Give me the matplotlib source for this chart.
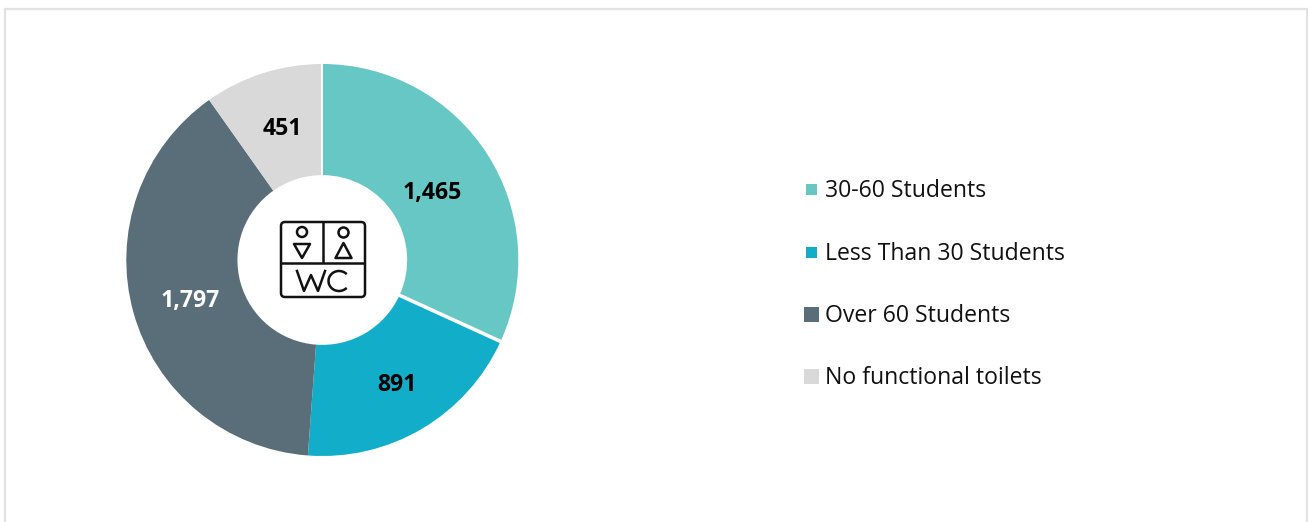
import matplotlib
matplotlib.use('Agg')
import matplotlib.pyplot as plt
import numpy as np
from matplotlib.patches import Rectangle, FancyBboxPatch, Circle, Polygon

plt.rcParams['font.family'] = ['Open Sans', 'DejaVu Sans']

categories = ['30-60 Students', 'Less Than 30 Students', 'Over 60 Students', 'No functional toilets']
values = [1465, 891, 1797, 451]
colors = ['#66C7C4', '#12AEC9', '#5A6E79', '#D9D9D9']
label_colors = ['black', 'black', 'white', 'black']

W, H = 1309, 522
fig = plt.figure(figsize=(W / 100, H / 100), dpi=100, facecolor='white')

# overlay in pixel coordinates for frame, legend, icon
ov = fig.add_axes([0, 0, 1, 1], zorder=3)
ov.set_xlim(0, W)
ov.set_ylim(H, 0)
ov.axis('off')
ov.patch.set_alpha(0)

# card border, open at the bottom
ov.plot([5, 5, 1306.5, 1306.5], [522, 8.5, 8.5, 522], color='#E2E2E2', lw=1.6, solid_joinstyle='miter')

# donut
cx, cy, r = 322.3, 260, 196
ax = fig.add_axes([(cx - r) / W, 1 - (cy + r) / H, 2 * r / W, 2 * r / H], zorder=2)
wedges, _ = ax.pie(values, colors=colors, startangle=90, counterclock=False, radius=1,
                   wedgeprops=dict(width=0.567, linewidth=0))
ax.set_xlim(-1, 1)
ax.set_ylim(-1, 1)

# white gaps either side of the first slice (theta1 is its lower edge here)
for theta, gap in [(wedges[0].theta1, 2.6), (wedges[0].theta2, 1.3)]:
    a = np.radians(theta)
    ax.plot([0.4 * np.cos(a), 1.02 * np.cos(a)], [0.4 * np.sin(a), 1.02 * np.sin(a)],
            color='white', lw=gap, solid_capstyle='butt', zorder=6, clip_on=False)

# data labels
label_pos = [(432, 193), (397, 385), (190, 301), (282, 129)]
for v, p, c in zip(values, label_pos, label_colors):
    ov.text(p[0], p[1], f'{v:,}', color=c, fontsize=16.6, fontweight='bold', ha='center', va='center')

# legend
legend_y = [189, 252, 314, 376]
marker_size = [11, 11, 15, 15]
for name, col, y, s in zip(categories, colors, legend_y, marker_size):
    ov.add_patch(Rectangle((811.5 - s / 2, y - s / 2), s, s, facecolor=col, edgecolor='none'))
    ov.text(825, y + 2, name, fontsize=16.55, color='#111111', ha='left', va='center')

# toilet icon
ic = '#111111'
lw = 1.8
ov.add_patch(FancyBboxPatch((281, 222), 84, 75, boxstyle='round,pad=0,rounding_size=4',
                            facecolor='none', edgecolor=ic, lw=lw))
ov.plot([281, 365], [263, 263], color=ic, lw=lw, solid_capstyle='butt')
ov.plot([323, 323], [222, 263], color=ic, lw=lw, solid_capstyle='butt')
ov.add_patch(Circle((302, 232), 5, facecolor='none', edgecolor=ic, lw=lw))
ov.add_patch(Circle((343.5, 232.5), 5, facecolor='none', edgecolor=ic, lw=lw))
ov.add_patch(Polygon([(294, 244), (310, 244), (302, 258)], closed=True, facecolor='none',
                     edgecolor=ic, lw=lw, joinstyle='round'))
ov.add_patch(Polygon([(343.5, 243), (335.5, 258), (351.5, 258)], closed=True, facecolor='none',
                     edgecolor=ic, lw=lw, joinstyle='round'))
# WC lettering drawn as strokes
ov.plot([297, 304, 311, 318, 325], [271, 291, 275, 291, 271], color=ic, lw=lw, solid_joinstyle='round')
t = np.linspace(np.radians(50), np.radians(310), 40)
ov.plot(339 + 10.5 * np.cos(t), 281 - 10 * np.sin(t), color=ic, lw=lw)

fig.savefig('out.png', dpi=100)
